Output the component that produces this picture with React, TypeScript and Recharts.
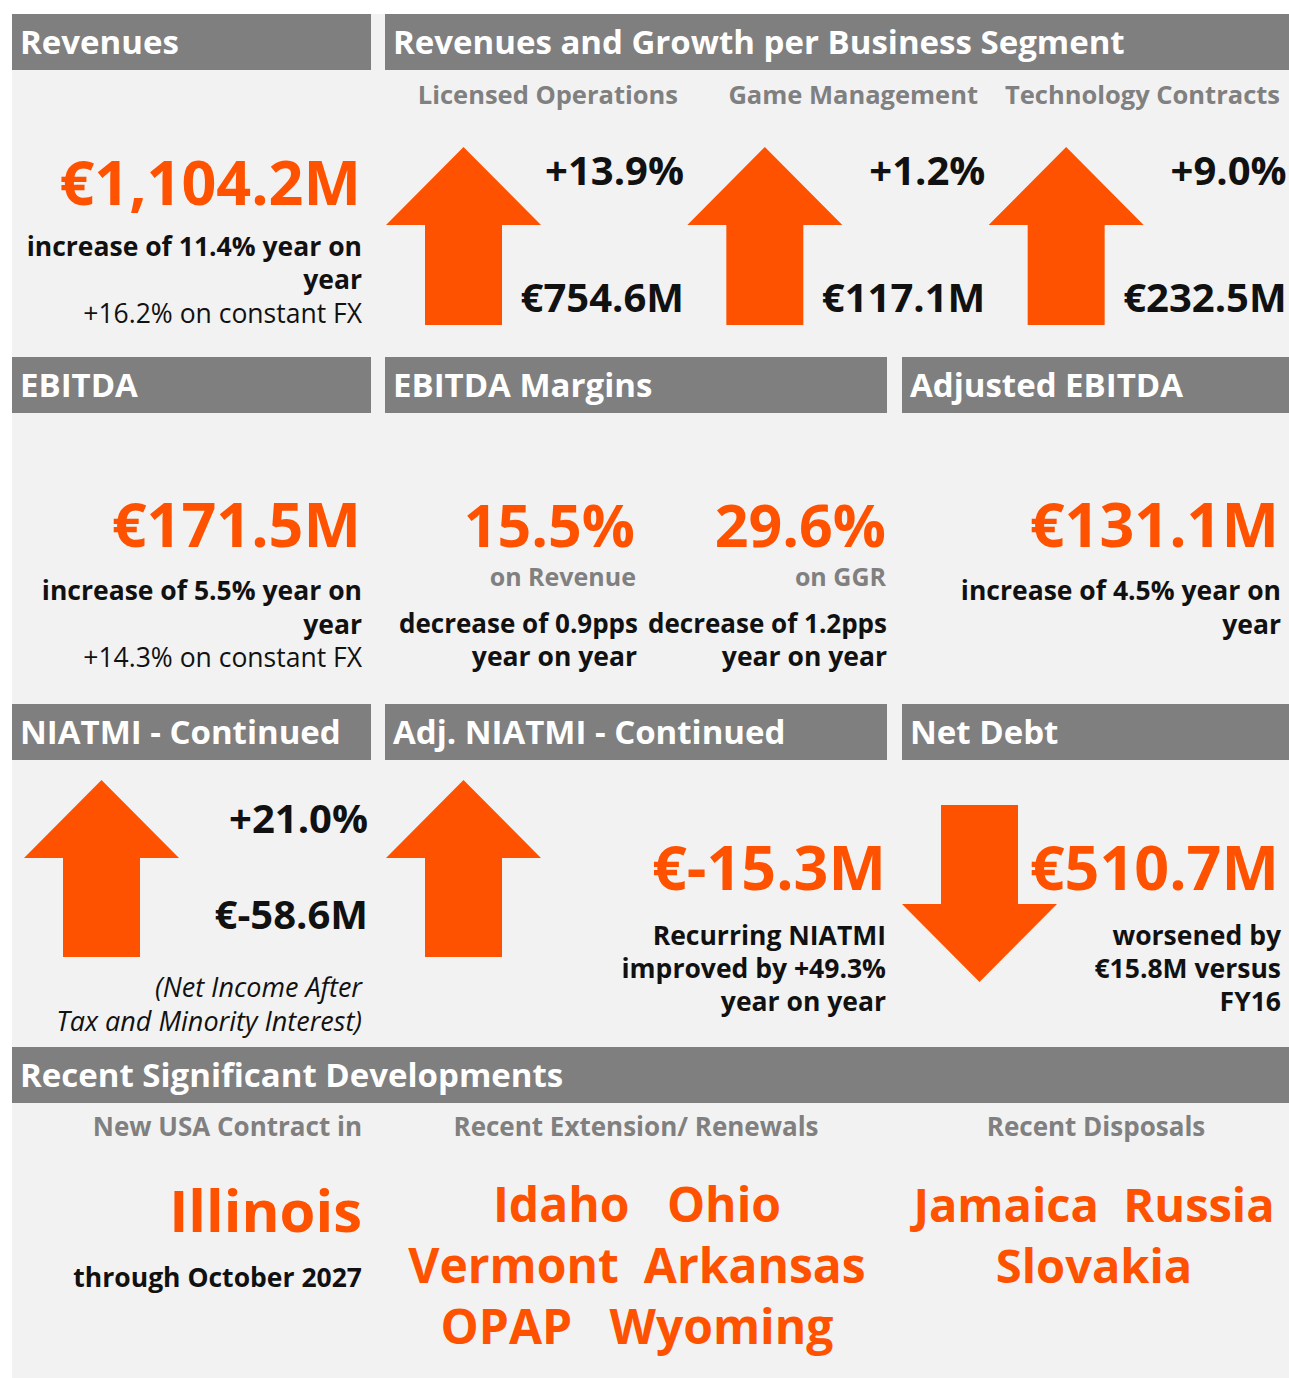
import { BarChart, Bar, XAxis, YAxis, LabelList } from "recharts";

const ORANGE = "#FF5200";
const HEADER_GRAY = "#7F7F7F";
const SUB_GRAY = "#808080";
const PANEL = "#F2F2F2";
const FONT = "'Open Sans', 'Noto Sans', sans-serif";

// segment arrows (row 1)
const segments = ["Licensed Operations", "Game Management", "Technology Contracts"];
const segmentGrowth = ["+13.9%", "+1.2%", "+9.0%"];
const segmentRevenue = ["€754.6M", "€117.1M", "€232.5M"];
const segmentTrend = ["up", "up", "up"];

// row 3 arrows
const niatmiGrowth = ["+21.0%"];
const niatmiValue = ["€-58.6M"];
const adjNiatmiTrend = ["up"];
const netDebtTrend = ["down"];

// headline figures
const revenueTotal = "€1,104.2M";
const ebitdaTotal = "€171.5M";
const marginValues = ["15.5%", "29.6%"];
const marginBases = ["on Revenue", "on GGR"];
const marginChanges = ["decrease of 0.9pps", "decrease of 1.2pps"];
const adjEbitdaTotal = "€131.1M";
const adjNiatmiTotal = "€-15.3M";
const netDebtTotal = "€510.7M";

const devHeadings = ["New USA Contract in", "Recent Extension/ Renewals", "Recent Disposals"];
const newContract = ["Illinois"];
const renewals = ["Idaho   Ohio", "Vermont  Arkansas", "OPAP   Wyoming"];
const disposals = ["Jamaica  Russia", "Slovakia"];

type ArrowRow = { name: string; size: number; trend: string; upper: string; lower: string };

const PAD = 24; // room above the arrows for label ascenders

function makeArrowShape(arrowW: number, headH: number, shaftW: number) {
  return (props: any) => {
    const { x, y, width, height, payload } = props;
    const w = Math.min(arrowW, width);
    const left = x + 1;
    const cx = left + w / 2;
    const s = shaftW / 2;
    let d: string;
    if (payload.trend === "down") {
      const base = y + height - headH;
      d = `M${cx - s},${y} L${cx + s},${y} L${cx + s},${base} L${left + w},${base} L${cx},${y + height} L${left},${base} L${cx - s},${base} Z`;
    } else {
      const base = y + headH;
      d = `M${cx},${y} L${left + w},${base} L${cx + s},${base} L${cx + s},${y + height} L${cx - s},${y + height} L${cx - s},${base} L${left},${base} Z`;
    }
    return <path d={d} fill={ORANGE} />;
  };
}

function valueLabel(offsetY: number, fontSize: number) {
  return (props: any) => {
    const vb = props.viewBox || props;
    const { x, y, width } = vb;
    if (!props.value) return null;
    return (
      <text
        x={x + width - 2}
        y={y + offsetY}
        textAnchor="end"
        fontFamily={FONT}
        fontWeight={700}
        fontSize={fontSize}
        fill="#111"
      >
        {props.value}
      </text>
    );
  };
}

function ArrowChart(p: {
  data: ArrowRow[];
  left: number;
  top: number;
  width: number;
  height: number;
  upperY?: number;
  lowerY?: number;
}) {
  const shape = makeArrowShape(155, 78, 77);
  const h = p.height + PAD;
  return (
    <div style={{ position: "absolute", left: p.left, top: p.top - PAD, width: p.width, height: h }}>
      <BarChart
        width={p.width}
        height={h}
        data={p.data}
        margin={{ top: PAD, right: 0, bottom: 0, left: 0 }}
        barCategoryGap={0}
        barGap={0}
        style={{ overflow: "visible" }}
      >
        <XAxis dataKey="name" hide />
        <YAxis hide domain={[0, 1]} />
        <Bar dataKey="size" shape={shape} isAnimationActive={false}>
          <LabelList dataKey="upper" content={valueLabel(p.upperY ?? 38, 40)} />
          <LabelList dataKey="lower" content={valueLabel(p.lowerY ?? 165, 40)} />
        </Bar>
      </BarChart>
    </div>
  );
}

function T(p: {
  x: number;
  y: number;
  t: string;
  s?: number;
  c?: string;
  w?: number;
  a?: "start" | "middle" | "end";
  it?: boolean;
}) {
  return (
    <text
      x={p.x}
      y={p.y}
      fontSize={p.s ?? 26.5}
      fill={p.c ?? "#111"}
      fontWeight={p.w ?? 700}
      textAnchor={p.a ?? "end"}
      fontStyle={p.it ? "italic" : "normal"}
      fontFamily={FONT}
      style={{ whiteSpace: "pre" }}
    >
      {p.t}
    </text>
  );
}

function Header(p: { x: number; y: number; w: number; t: string }) {
  return (
    <g>
      <rect x={p.x} y={p.y} width={p.w} height={56} fill={HEADER_GRAY} />
      <text x={p.x + 8} y={p.y + 40} fill="#fff" fontSize={33} fontWeight={700} fontFamily={FONT}>
        {p.t}
      </text>
    </g>
  );
}

export default function App() {
  const segData: ArrowRow[] = segments.map((s, i) => ({
    name: s,
    size: 1,
    trend: segmentTrend[i],
    upper: segmentGrowth[i],
    lower: segmentRevenue[i],
  }));
  const niatmiData: ArrowRow[] = niatmiGrowth.map((g, i) => ({
    name: "NIATMI",
    size: 1,
    trend: "up",
    upper: g,
    lower: niatmiValue[i],
  }));
  const adjData: ArrowRow[] = adjNiatmiTrend.map((t) => ({ name: "Adj. NIATMI", size: 1, trend: t, upper: "", lower: "" }));
  const debtData: ArrowRow[] = netDebtTrend.map((t) => ({ name: "Net Debt", size: 1, trend: t, upper: "", lower: "" }));

  return (
    <div
      style={{
        position: "absolute",
        left: 0,
        top: 0,
        width: 1289,
        height: 1378,
        background: "#fff",
        overflow: "hidden",
        fontFamily: FONT,
      }}
    >
      <div style={{ position: "absolute", left: 12, top: 14, width: 1277, height: 1364, background: PANEL }} />
      <svg width={1289} height={1378} style={{ position: "absolute", left: 0, top: 0 }}>
        {/* row 1 */}
        <Header x={12} y={14} w={359} t="Revenues" />
        <Header x={385} y={14} w={904} t="Revenues and Growth per Business Segment" />
        <T x={361} y={205} t={revenueTotal} s={61} c={ORANGE} />
        <T x={362} y={256} t="increase of 11.4% year on" />
        <T x={362} y={289} t="year" />
        <T x={362} y={323} t="+16.2% on constant FX" w={400} />
        <T x={678} y={104} t={segments[0]} c={SUB_GRAY} s={25.5} />
        <T x={978} y={104} t={segments[1]} c={SUB_GRAY} s={25.5} />
        <T x={1280} y={104} t={segments[2]} c={SUB_GRAY} s={25.5} />

        {/* row 2 */}
        <Header x={12} y={357} w={359} t="EBITDA" />
        <Header x={385} y={357} w={502} t="EBITDA Margins" />
        <Header x={902} y={357} w={387} t="Adjusted EBITDA" />
        <T x={361} y={547} t={ebitdaTotal} s={61} c={ORANGE} />
        <T x={362} y={600} t="increase of 5.5% year on" />
        <T x={362} y={634} t="year" />
        <T x={362} y={667} t="+14.3% on constant FX" w={400} />
        <T x={635} y={547} t={marginValues[0]} s={59} c={ORANGE} />
        <T x={886} y={547} t={marginValues[1]} s={59} c={ORANGE} />
        <T x={636} y={586} t={marginBases[0]} c={SUB_GRAY} s={25} />
        <T x={886} y={586} t={marginBases[1]} c={SUB_GRAY} s={25} />
        <T x={638} y={633} t={marginChanges[0]} s={26} />
        <T x={887} y={633} t={marginChanges[1]} s={26} />
        <T x={637} y={666} t="year on year" />
        <T x={887} y={666} t="year on year" />
        <T x={1279} y={547} t={adjEbitdaTotal} s={61} c={ORANGE} />
        <T x={1281} y={600} t="increase of 4.5% year on" />
        <T x={1281} y={634} t="year" />

        {/* row 3 */}
        <Header x={12} y={704} w={359} t="NIATMI - Continued" />
        <Header x={385} y={704} w={502} t="Adj. NIATMI - Continued" />
        <Header x={902} y={704} w={387} t="Net Debt" />
        <T x={362} y={997} t="(Net Income After" w={400} s={27} it />
        <T x={362} y={1031} t="Tax and Minority Interest)" w={400} s={27} it />
        <T x={886} y={890} t={adjNiatmiTotal} s={61} c={ORANGE} />
        <T x={886} y={945} t="Recurring NIATMI" />
        <T x={886} y={978} t="improved by +49.3%" />
        <T x={886} y={1011} t="year on year" />
        <T x={1279} y={890} t={netDebtTotal} s={61} c={ORANGE} />
        <T x={1281} y={945} t="worsened by" />
        <T x={1281} y={978} t="€15.8M versus" />
        <T x={1281} y={1011} t="FY16" />

        {/* row 4 */}
        <Header x={12} y={1047} w={1277} t="Recent Significant Developments" />
        <T x={362} y={1136} t={devHeadings[0]} c={SUB_GRAY} s={26} />
        <T x={636} y={1136} t={devHeadings[1]} c={SUB_GRAY} s={26} a="middle" />
        <T x={1096} y={1136} t={devHeadings[2]} c={SUB_GRAY} s={26} a="middle" />
        {newContract.map((n) => (
          <T key={n} x={362} y={1232} t={n} s={58} c={ORANGE} />
        ))}
        <T x={362} y={1287} t="through October 2027" />
        {renewals.map((r, i) => (
          <T key={r} x={637} y={1222 + i * 61} t={r} s={48} c={ORANGE} a="middle" />
        ))}
        {disposals.map((r, i) => (
          <T key={r} x={1094} y={1222 + i * 61} t={r} s={47} c={ORANGE} a="middle" />
        ))}
      </svg>

      <ArrowChart data={segData} left={385} top={147} width={904} height={178} upperY={38} lowerY={165} />
      <ArrowChart data={niatmiData} left={23} top={780} width={347} height={177} upperY={53} lowerY={149} />
      <ArrowChart data={adjData} left={385} top={780} width={157} height={177} />
      <ArrowChart data={debtData} left={901} top={805} width={157} height={177} />
    </div>
  );
}
